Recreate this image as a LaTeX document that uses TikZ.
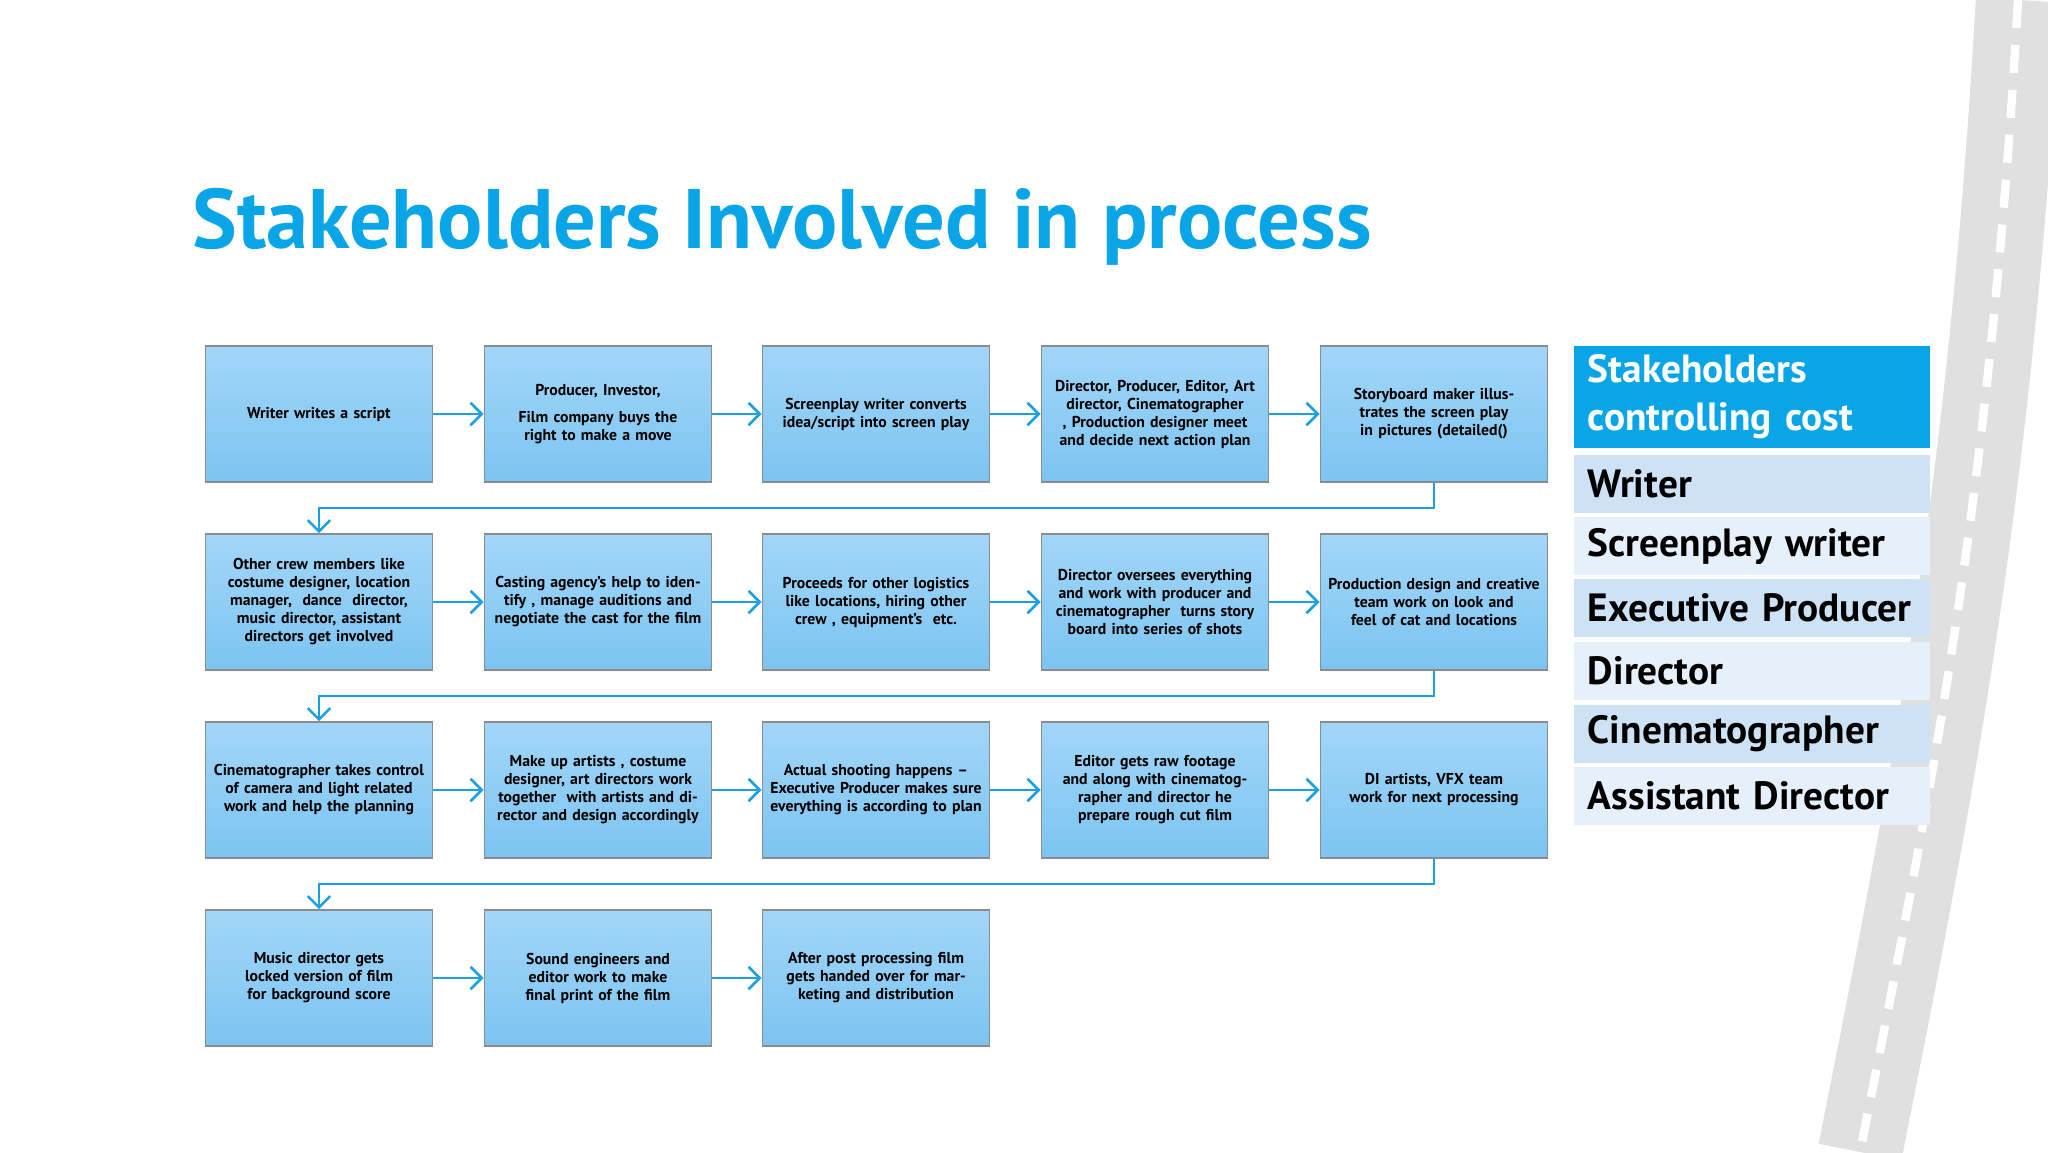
\documentclass[tikz,border=0pt]{standalone}
\usepackage{fontspec}
\setmainfont{PT Sans}
\usetikzlibrary{arrows.meta}
\definecolor{tblue}{HTML}{0AA5E6}
\definecolor{lblue}{HTML}{1BA1E2}
\definecolor{boxtop}{HTML}{A2D6F8}
\definecolor{boxbot}{HTML}{7CC4F1}
\definecolor{rowa}{HTML}{CDE3F5}
\definecolor{rowb}{HTML}{E6F0FA}
\begin{document}
\begin{tikzpicture}[x=0.0125cm,y=-0.0125cm,
  stepbox/.style={draw=black!45,line width=0.6pt,top color=boxtop,bottom color=boxbot,minimum width=2.84cm,minimum height=1.7cm,text width=2.65cm,align=center,inner sep=0pt,font=\bfseries\fontsize{5.6pt}{6.4pt}\selectfont},
  flow/.style={draw=lblue,line width=0.9pt,-{Straight Barb[length=4pt,width=8pt]}},
  tbrow/.style={minimum width=4.44cm,minimum height=0.72cm,inner sep=0pt,text width=4.1cm,align=left,font=\bfseries\fontsize{14pt}{16pt}\selectfont}]
\useasboundingbox (0,0) rectangle (2048,1152);
\fill[white] (0,0) rectangle (2048,1152);
% film strip decoration
\draw[black!12,line width=30pt] (2018,0) .. controls (1990,500) and (1930,800) .. (1860,1152);
\draw[white,line width=3pt,dash pattern=on 10pt off 6pt] (2018,0) .. controls (1990,500) and (1930,800) .. (1860,1152);
\node[anchor=base west,text=tblue,font=\bfseries\fontsize{30pt}{34pt}\selectfont,inner sep=0pt] (title) at (192,248) {Stakeholders Involved in process};
% boxes
\node[stepbox] (a1) at (319,414) {Writer writes a script};
\node[stepbox] (a2) at (598,414) {Producer, Investor,\\[3pt] Film company buys the right to make a move};
\node[stepbox] (a3) at (876,414) {Screenplay writer converts idea/script into screen play};
\node[stepbox] (a4) at (1155,414) {Director, Producer, Editor, Art director, Cinematographer , Production designer meet and decide next action plan};
\node[stepbox] (a5) at (1434,414) {Storyboard maker illustrates the screen play in pictures (detailed()};
\node[stepbox] (b1) at (319,602) {Other crew members like costume designer, location manager,\ \ dance\ \ director, music director, assistant directors get involved};
\node[stepbox] (b2) at (598,602) {Casting agency's help to identify , manage auditions and negotiate the cast for the film};
\node[stepbox] (b3) at (876,602) {Proceeds for other logistics like locations, hiring other crew , equipment's\ \ etc.};
\node[stepbox] (b4) at (1155,602) {Director oversees everything and work with producer and cinematographer\ \ turns story board into series of shots};
\node[stepbox] (b5) at (1434,602) {Production design and creative team work on look and feel of cat and locations};
\node[stepbox] (c1) at (319,790) {Cinematographer takes control of camera and light related work and help the planning};
\node[stepbox] (c2) at (598,790) {Make up artists , costume designer, art directors work together\ \ with artists and director and design accordingly};
\node[stepbox] (c3) at (876,790) {Actual shooting happens -- Executive Producer makes sure everything is according to plan};
\node[stepbox] (c4) at (1155,790) {Editor gets raw footage and along with cinematographer and director he prepare rough cut film};
\node[stepbox] (c5) at (1434,790) {DI artists, VFX team work for next processing};
\node[stepbox] (d1) at (319,978) {Music director gets locked version of film for background score};
\node[stepbox] (d2) at (598,978) {Sound engineers and editor work to make final print of the film};
\node[stepbox] (d3) at (876,978) {After post processing film gets handed over for marketing and distribution};
% arrows
\foreach \r in {a,b,c}{
  \draw[flow] (\r1) -- (\r2);
  \draw[flow] (\r2) -- (\r3);
  \draw[flow] (\r3) -- (\r4);
  \draw[flow] (\r4) -- (\r5);
}
\draw[flow] (d1) -- (d2);
\draw[flow] (d2) -- (d3);
\draw[flow] (a5.south) -- ++(0,25) -| (b1.north);
\draw[flow] (b5.south) -- ++(0,25) -| (c1.north);
\draw[flow] (c5.south) -- ++(0,25) -| (d1.north);
% table
\node[fill=tblue,minimum width=4.44cm,minimum height=1.28cm,inner sep=0pt,text width=4.1cm,align=left,text=white,font=\bfseries\fontsize{14pt}{17pt}\selectfont] (th) at (1752,397) {Stakeholders\\controlling cost};
\node[tbrow,fill=rowa] (t1) at (1752,484) {Writer};
\node[tbrow,fill=rowb] (t2) at (1752,546) {Screenplay writer};
\node[tbrow,fill=rowa] (t3) at (1752,608) {Executive Producer};
\node[tbrow,fill=rowb] (t4) at (1752,671) {Director};
\node[tbrow,fill=rowa] (t5) at (1752,734) {Cinematographer};
\node[tbrow,fill=rowb] (t6) at (1752,796) {Assistant Director};
\end{tikzpicture}
\end{document}
